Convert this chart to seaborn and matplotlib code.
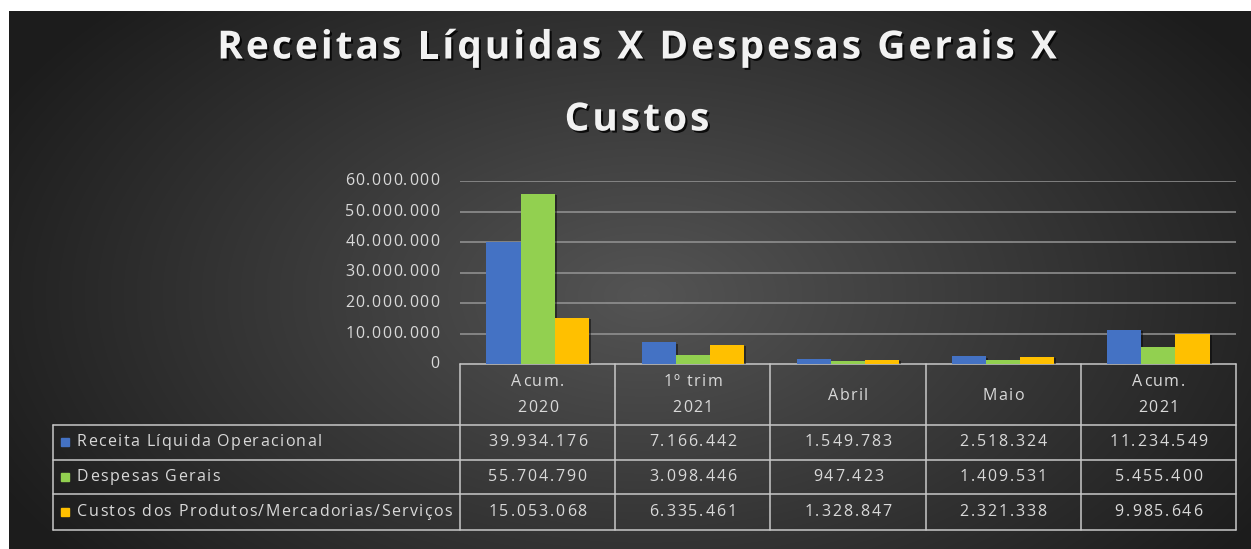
import numpy as np
import pandas as pd
import seaborn as sns
from matplotlib import pyplot as plt
from matplotlib import patheffects as pe
from matplotlib.patches import Rectangle

# chart data
periods = ["Acum.\n2020", "1º trim\n2021", "Abril", "Maio", "Acum.\n2021"]
series = ["Receita Líquida Operacional", "Despesas Gerais",
          "Custos dos Produtos/Mercadorias/Serviços"]
receita = [39934176, 7166442, 1549783, 2518324, 11234549]
despesas = [55704790, 3098446, 947423, 1409531, 5455400]
custos = [15053068, 6335461, 1328847, 2321338, 9985646]
y_ticks = [0, 10000000, 20000000, 30000000, 40000000, 50000000, 60000000]
title_lines = ["Receitas Líquidas X Despesas Gerais X", "Custos"]

colors = ["#4472C4", "#92D050", "#FFC000"]
txt = "#d9d9d9"
line_c = "#c8c8c8"
fs = 11.5

df = pd.DataFrame({
    "periodo": periods * 3,
    "serie": [s for s in series for _ in periods],
    "valor": receita + despesas + custos,
})

def fmt(v):
    return f"{v:,}".replace(",", ".")

W, H = 1251, 549
sns.set_theme(style="dark")
plt.rcParams["font.family"] = ["Open Sans", "DejaVu Sans"]
fig = plt.figure(figsize=(W / 100, H / 100), dpi=100)
fig.patch.set_facecolor("white")
renderer = fig.canvas.get_renderer()

# background axes in pixel coordinates
bg = fig.add_axes([0, 0, 1, 1])
bg.axis("off")
yy, xx = np.mgrid[0:H, 0:W]
r = np.sqrt(((xx - 640) / 700.0) ** 2 + ((yy - 290) / 420.0) ** 2)
shade = np.clip(0.33 - 0.21 * r, 0.11, 0.4)
img = np.dstack([shade, shade, shade])
bg.imshow(img, extent=(9, W, H, 11), aspect="auto", zorder=0)
bg.set_xlim(0, W)
bg.set_ylim(H, 0)


def text_w(s, **kw):
    t = bg.text(0, 0, s + "|", **kw)
    w = t.get_window_extent(renderer).width
    t.remove()
    t = bg.text(0, 0, "|", **kw)
    w -= t.get_window_extent(renderer).width
    t.remove()
    return w


def spaced(x, y, s, sp, ha="left", va="center", **kw):
    # text with extra letter spacing, like the Excel export
    total = text_w(s, **kw) + sp * (len(s) - 1)
    x0 = {"left": x, "center": x - total / 2, "right": x - total}[ha]
    for i, c in enumerate(s):
        if c == " ":
            continue
        bg.text(x0 + text_w(s[:i], **kw) + sp * i, y, c, ha="left", va=va, **kw)


# plot area geometry (pixels)
left, right, top, zero_y = 460, 1236, 181, 364
ax = fig.add_axes([left / W, 1 - zero_y / H, (right - left) / W, (zero_y - top) / H])
ax.patch.set_alpha(0)

sns.barplot(data=df, x="periodo", y="valor", hue="serie", order=periods,
            hue_order=series, palette=colors, width=0.66, saturation=1,
            edgecolor="none", ax=ax, legend=False, zorder=3)
bar_shadow = [pe.withSimplePatchShadow(offset=(1.5, -1), shadow_rgbFace="black",
                                       alpha=0.45)]
for p in ax.patches:
    p.set_path_effects(bar_shadow)
ax.set_xlim(-0.5, len(periods) - 0.5)
ax.set_ylim(0, 60000000)
ax.set_yticks(y_ticks)
ax.set_yticklabels([])
ax.tick_params(axis="y", length=0)
ax.set_xticks([])
ax.set_xlabel("")
ax.set_ylabel("")
for s in ax.spines.values():
    s.set_visible(False)
ax.grid(False)
for v in y_ticks[1:]:
    ax.axhline(v, color="#959595", lw=1.1, zorder=1)

# y tick labels, placed through the axis scale
for v in y_ticks:
    ypix = H - ax.transData.transform((0, v))[1]
    spaced(439, ypix, fmt(v), 1.4, ha="right", color=txt, fontsize=fs)

# data table below the chart
n = len(periods)
col_w = (right - left) / n
row_edges = [364, 425, 460, 494, 530]
leg_left = 53
lkw = dict(color=line_c, lw=1.1, zorder=2)
bg.plot([left, right], [row_edges[0], row_edges[0]], **lkw)
for yv in row_edges[1:]:
    bg.plot([leg_left, right], [yv, yv], **lkw)
for i in range(n + 1):
    bg.plot([left + i * col_w] * 2, [row_edges[0], row_edges[-1]], **lkw)
bg.plot([leg_left, leg_left], [row_edges[1], row_edges[-1]], **lkw)

for i, p in enumerate(periods):
    cx = left + (i + 0.5) * col_w
    parts = p.split("\n")
    mid = (row_edges[0] + row_edges[1]) / 2 + 1
    for k, part in enumerate(parts):
        yk = mid + (k - (len(parts) - 1) / 2) * 26
        spaced(cx, yk, part, 1.4, ha="center", color=txt, fontsize=fs)
for j, (name, vals) in enumerate(zip(series, [receita, despesas, custos])):
    cy = (row_edges[j + 1] + row_edges[j + 2]) / 2
    bg.add_patch(Rectangle((leg_left + 8, cy - 4.5), 8, 8,
                           color=colors[j], zorder=3))
    spaced(leg_left + 24, cy, name, 1.4, color=txt, fontsize=fs)
    for i, v in enumerate(vals):
        spaced(left + (i + 0.5) * col_w, cy, fmt(v), 1.9, ha="center",
               color=txt, fontsize=fs)

# title
shadow = [pe.withSimplePatchShadow(offset=(1.5, -1.5),
                                   shadow_rgbFace="black", alpha=0.8)]
for k, line in enumerate(title_lines):
    spaced(637, 48 + k * 72, line, 3.0, ha="center", color="#f2f2f2",
           fontsize=28, fontweight="bold", path_effects=shadow)

fig.savefig("out.png", dpi=100, facecolor=fig.get_facecolor())
